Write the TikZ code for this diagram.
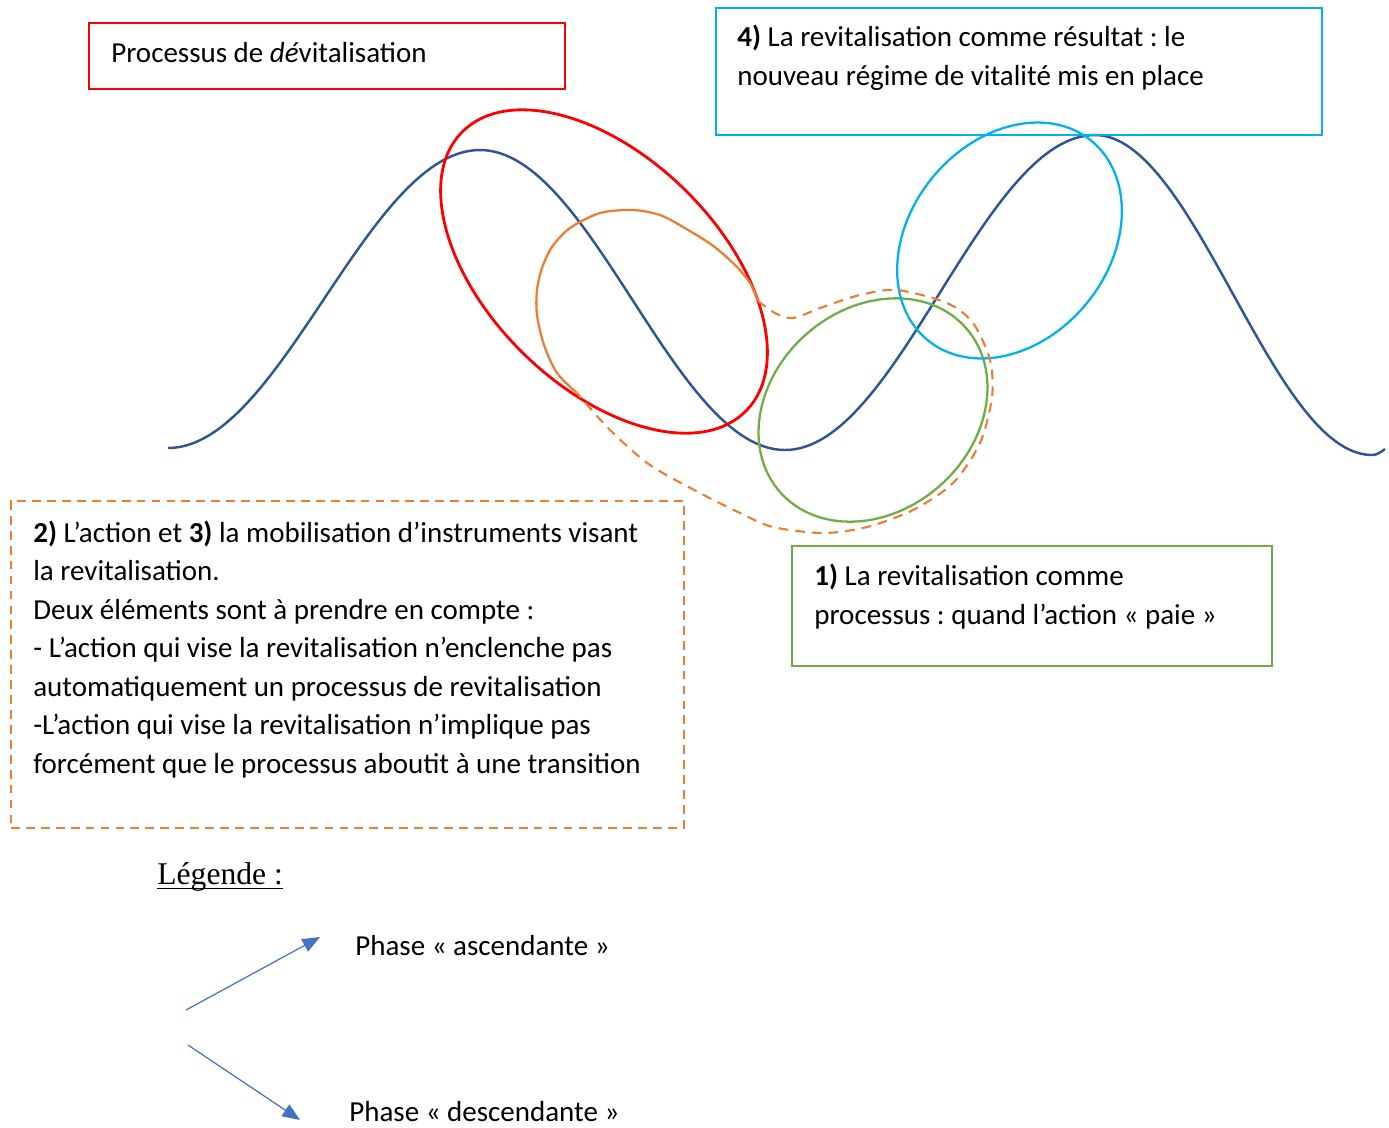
\documentclass[tikz,border=0pt]{standalone}
\usepackage{fontspec}
\setmainfont{Carlito}
\newfontfamily\legfont{Liberation Serif}
\frenchspacing
\usetikzlibrary{arrows.meta}
\definecolor{devred}{HTML}{FF0000}
\definecolor{resblue}{HTML}{00B0F0}
\definecolor{procgreen}{HTML}{70AD47}
\definecolor{actorange}{HTML}{ED7D31}
\definecolor{waveblue}{HTML}{2F5597}
\definecolor{legblue}{HTML}{4472C4}
\tikzset{
	x=0.02cm, y=-0.02cm,
	>={Triangle[length=10pt, width=8pt]},
	txt/.style={inner sep=0pt, anchor=base west, align=left, font=\fontsize{16.5}{21.9}\selectfont},
	frame/.style={draw, line width=1.2pt, inner sep=0pt, outer sep=0pt, anchor=north west},
	wave/.style={waveblue, line width=1.4pt},
	ring/.style={line width=1.3pt},
	outline/.style={actorange, line width=1.2pt, dash pattern=on 5.5pt off 4pt},
	legarrow/.style={->, legblue, line width=0.7pt}}

\begin{document}
\begin{tikzpicture}
		\useasboundingbox (0,0) rectangle (1389,1127);
		
		% the wave
		\draw[wave] (168,448) .. controls (281,448) and (367,150) .. (480,150)
		.. controls (591,150) and (674,450) .. (785,450)
		.. controls (898,450) and (982,135) .. (1095,135)
		.. controls (1195,135) and (1272,455) .. (1372,455)
		.. controls (1377,455) and (1381,452) .. (1385,449);
		
		% the rings
		\draw[ring, devred, line width=1.6pt, rotate around={-44.4:(604,271.5)}] (604,271.5) ellipse [x radius=199, y radius=115];
		\draw[ring, procgreen, rotate around={41.5:(873,410)}] (873,410) ellipse [x radius=124, y radius=101];
		\draw[ring, resblue, rotate around={50.5:(1009.5,240.5)}] (1009.5,240.5) ellipse [x radius=129, y radius=99.5];
		\draw[ring, actorange] plot[smooth] coordinates {(577,393) (557,373) (544,345) (537,315) (537,290) (542,268) (552,247) (570,228) (600,213) (633,210) (660,215) (683,227) (712,245) (735,265) (750,283) (758,301)};
		\draw[outline] plot[smooth] coordinates {(758,301) (775,313) (793,318) (823,307) (860,295) (897,290) (947,303) (973,323) (990,360) (992,397) (980,443) (953,483) (913,510) (867,527) (823,533) (773,527) (740,513) (700,493) (650,465) (610,430) (577,393)};
		
		% the boxes
		\node[frame, devred, minimum width=9.52cm, minimum height=1.32cm] (devbox) at (89,23) {};
		\node[txt] (devtext) at (111,62) {Processus de \textit{dé}vitalisation};
		
		\node[frame, resblue, minimum width=12.12cm, minimum height=2.54cm] (resbox) at (716,8) {};
		\node[txt] (restext) at (737,85) {\textbf{4)} La revitalisation comme résultat : le\\nouveau régime de vitalité mis en place};
		
		\node[frame, actorange, dash pattern=on 5pt off 3.5pt, minimum width=13.46cm, minimum height=6.54cm] (actbox) at (11,501) {};
		\node[txt] (acttext) at (33,773) {\textbf{2)} L’action et \textbf{3)} la mobilisation d’instruments visant\\la revitalisation.\\Deux éléments sont à prendre en compte :\\- L’action qui vise la revitalisation n’enclenche pas\\automatiquement un processus de revitalisation\\-L’action qui vise la revitalisation n’implique pas\\forcément que le processus aboutit à une transition};
		
		\node[frame, procgreen, minimum width=9.6cm, minimum height=2.4cm] (procbox) at (792,546) {};
		\node[txt] (proctext) at (814,624) {\textbf{1)} La revitalisation comme\\processus : quand l’action « paie »};
		
		% legend
		\node[inner sep=0pt, anchor=base west, font=\legfont\fontsize{18}{22}\selectfont] (legend) at (157,884) {Légende :};
		\draw[line width=0.8pt] ([yshift=-0.09cm]legend.base west) -- ([yshift=-0.09cm]legend.base east);
		
		\coordinate (ascfrom) at (186,1010);
		\coordinate (ascto) at (320,937);
		\coordinate (descfrom) at (188,1045);
		\coordinate (descto) at (300,1120);
		\draw[legarrow] (ascfrom) -- (ascto);
		\draw[legarrow] (descfrom) -- (descto);
		\node[txt] (asclabel) at (355,955) {Phase « ascendante »};
		\node[txt] (desclabel) at (349,1121) {Phase « descendante »};
		
	\end{tikzpicture}
\end{document}
